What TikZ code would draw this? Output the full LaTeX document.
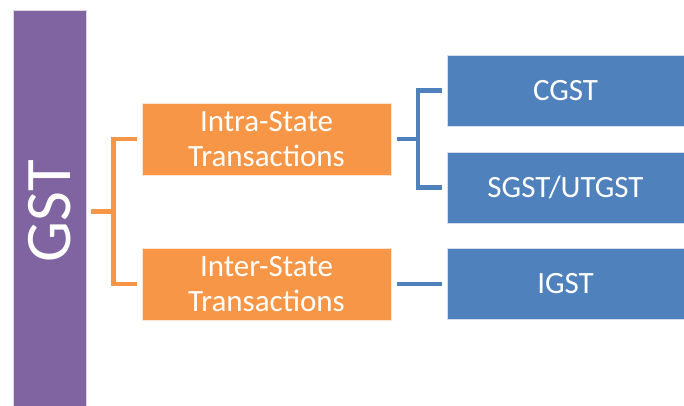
\documentclass[tikz,border=0pt]{standalone}
\usepackage{fontspec}
\setmainfont{Carlito}
\definecolor{gstpurple}{HTML}{8064A2}
\definecolor{gstorange}{HTML}{F79646}
\definecolor{gstblue}{HTML}{4F81BD}
\begin{document}
\begin{tikzpicture}[x=1pt, y=-1pt,
                    taxbox/.style={rectangle, fill=#1, draw=white!75!#1, line width=0.7pt,
                                   text=white, inner sep=0pt, align=center,
                                   font=\fontsize{31}{35}\selectfont},
                    orangelink/.style={gstorange, line width=4.5pt},
                    bluelink/.style={gstblue, line width=4.5pt}]
\useasboundingbox (0,0) rectangle (684,405);
\node[taxbox=gstpurple, minimum width=73pt, minimum height=402pt,
      font=\fontsize{65}{70}\selectfont] (gst) at (49.5,211) {\rotatebox{90}{GST}};
\node[taxbox=gstorange, minimum width=249pt, minimum height=72pt] (intra) at (266.5,139) {Intra-State\\Transactions};
\node[taxbox=gstorange, minimum width=249pt, minimum height=72pt] (inter) at (266.5,284) {Inter-State\\Transactions};
\node[taxbox=gstblue, minimum width=237pt, minimum height=71pt] (cgst) at (565.5,90.5) {CGST};
\node[taxbox=gstblue, minimum width=237pt, minimum height=71pt] (sgst) at (565.5,187.5) {SGST/UTGST};
\node[taxbox=gstblue, minimum width=237pt, minimum height=71pt] (igst) at (565.5,284) {IGST};
\coordinate (orsplit) at (113.5,211.5);
\coordinate (blsplit) at (418,139);
\draw[orangelink] ([xshift=5pt]gst.east |- orsplit) -- (orsplit);
\draw[orangelink] ([xshift=-5pt]intra.west) -| (orsplit) |- ([xshift=-5pt]inter.west);
\draw[bluelink] ([xshift=6pt]intra.east) -- (blsplit);
\draw[bluelink] ([xshift=-5pt]cgst.west) -| (blsplit) |- ([xshift=-5pt]sgst.west);
\draw[bluelink] ([xshift=6pt]inter.east) -- ([xshift=-5pt]igst.west);
\end{tikzpicture}
\end{document}
